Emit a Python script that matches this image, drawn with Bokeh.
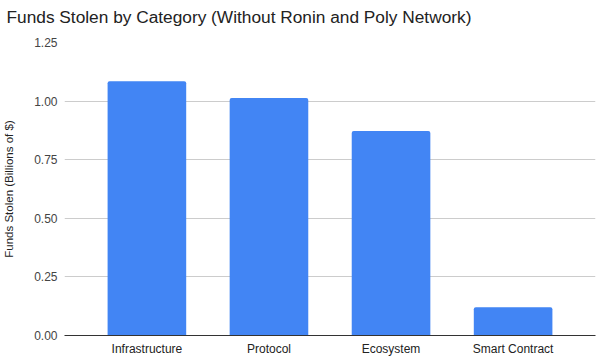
from bokeh.plotting import figure
from bokeh.models import FactorRange, Range1d, FixedTicker, CustomJSTickFormatter
from bokeh.embed import file_html
from bokeh.resources import INLINE

categories = ["Infrastructure", "Protocol", "Ecosystem", "Smart Contract"]
funds_stolen = [1.085, 1.013, 0.872, 0.121]
y_ticks = [0.0, 0.25, 0.5, 0.75, 1.0, 1.25]
title_text = "Funds Stolen by Category (Without Ronin and Poly Network)"

FONT = "Liberation Sans"

p = figure(
    width=598, height=358,
    x_range=FactorRange(*categories, range_padding=0.175, range_padding_units="absolute"),
    y_range=Range1d(0, 1.25),
    output_backend="svg", toolbar_location=None,
    title=title_text,
    min_border_left=62, min_border_right=3, min_border_top=0, min_border_bottom=23,
)

p.vbar(x=categories, top=funds_stolen, width=0.644, color="#4285F4", line_color=None,
       border_radius={"top_left": 2, "top_right": 2, "bottom_left": 0, "bottom_right": 0})

p.title.text_font = FONT
p.title.text_font_size = "17.3px"
p.title.text_font_style = "normal"
p.title.text_color = "#222222"
p.title.align = "left"
p.title.vertical_align = "top"
p.title.offset = -58
p.title.standoff = 13
p.title.padding = {"left": 0, "right": 0, "top": 0, "bottom": 7}

p.outline_line_color = None
p.background_fill_color = "white"
p.border_fill_color = "white"

p.xgrid.grid_line_color = None
p.ygrid.grid_line_color = "#cccccc"
p.ygrid.ticker = FixedTicker(ticks=y_ticks)

yax = p.yaxis[0]
yax.ticker = FixedTicker(ticks=y_ticks)
yax.formatter = CustomJSTickFormatter(code="return tick.toFixed(2);")
yax.axis_line_color = None
yax.major_tick_line_color = None
yax.minor_tick_line_color = None
yax.major_tick_out = 0
yax.major_tick_in = 0
yax.minor_tick_out = 0
yax.major_label_standoff = 7
yax.major_label_text_font = FONT
yax.major_label_text_font_size = "12px"
yax.major_label_text_color = "#444444"
yax.axis_label = "Funds Stolen (Billions of $)"
yax.axis_label_text_font = FONT
yax.axis_label_text_font_size = "11.5px"
yax.axis_label_text_font_style = "normal"
yax.axis_label_text_color = "#222222"
yax.axis_label_standoff = 16

xax = p.xaxis[0]
xax.axis_line_color = "#333333"
xax.axis_line_width = 1
xax.major_tick_line_color = None
xax.minor_tick_line_color = None
xax.major_tick_out = 0
xax.major_tick_in = 0
xax.minor_tick_out = 0
xax.major_label_standoff = 6
xax.major_label_text_font = FONT
xax.major_label_text_font_size = "12px"
xax.major_label_text_color = "#222222"

open("out.html", "w").write(file_html(p, INLINE))
